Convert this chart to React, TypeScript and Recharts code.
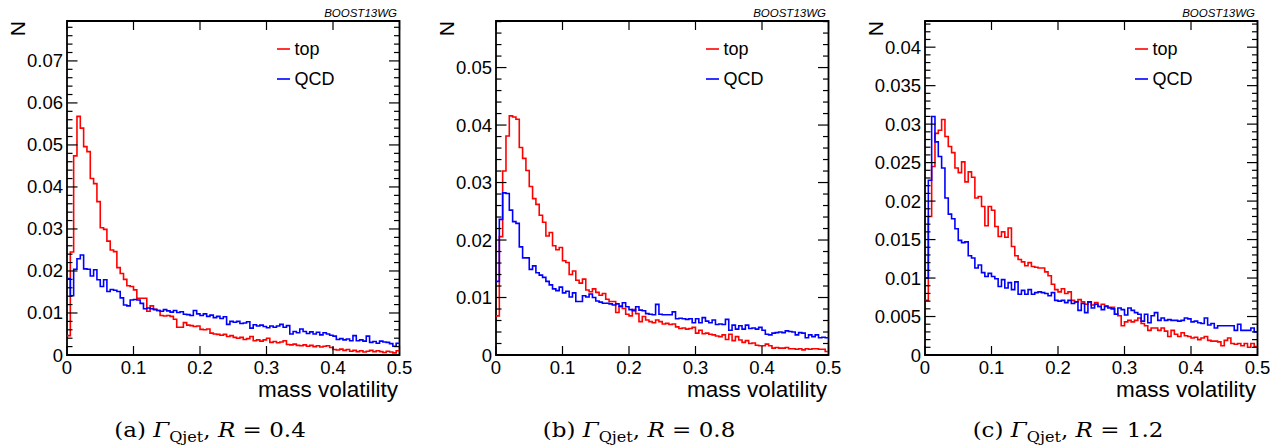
import { LineChart, Line, XAxis, YAxis, ReferenceArea } from 'recharts';

// 100 bins of width 0.005 on [0, 0.5]; bin contents in units of 1e-3
const BIN = 0.005;

const topA = [
  4.6, 24.5, 47.4, 56.8, 54.0, 49.6, 48.4, 42.0, 40.8, 36.5,
  30.3, 29.9, 27.1, 25.0, 24.6, 20.8, 19.4, 18.0, 16.5, 16.3,
  15.5, 13.5, 13.5, 13.5, 10.4, 11.7, 10.9, 10.6, 9.4, 9.3,
  9.4, 9.2, 8.5, 6.6, 6.6, 7.7, 7.1, 7.0, 6.8, 6.9,
  6.1, 6.0, 6.2, 5.2, 5.0, 4.9, 4.7, 4.9, 4.4, 4.6,
  4.2, 4.0, 4.2, 3.7, 3.9, 4.4, 3.4, 3.6, 3.3, 3.6,
  4.0, 3.0, 3.2, 2.9, 3.1, 3.4, 2.5, 2.4, 2.6, 2.3,
  2.2, 2.4, 2.1, 2.3, 2.0, 2.2, 1.9, 2.1, 2.2, 1.8,
  1.3, 1.2, 1.4, 1.1, 1.3, 0.9, 1.1, 0.8, 1.0, 0.7,
  0.9, 1.1, 0.8, 1.0, 0.8, 0.6, 0.9, 0.7, 0.5, 1.0,
];
const qcdA = [
  18.2, 14.1, 20.4, 22.9, 23.8, 20.5, 20.4, 18.8, 20.3, 17.9,
  16.3, 17.9, 15.1, 15.6, 15.4, 15.1, 13.6, 11.9, 11.7, 13.1,
  13.2, 13.1, 12.3, 11.0, 11.2, 11.0, 10.8, 10.6, 10.4, 10.8,
  10.5, 10.2, 10.6, 10.1, 10.3, 9.7, 9.6, 9.4, 10.6, 9.8,
  9.4, 9.8, 9.2, 9.5, 8.9, 9.2, 8.7, 9.1, 7.3, 8.0,
  7.8, 8.0, 7.5, 7.6, 7.9, 6.4, 7.2, 6.9, 7.1, 6.8,
  6.5, 6.9, 6.6, 6.9, 7.3, 6.6, 7.0, 5.0, 5.6, 5.3,
  6.2, 5.6, 5.1, 5.5, 5.0, 5.4, 4.8, 5.3, 5.0, 4.7,
  4.5, 3.7, 3.9, 3.6, 3.8, 3.4, 4.6, 3.4, 3.6, 3.3,
  4.5, 3.0, 3.2, 2.8, 3.3, 3.1, 3.0, 2.7, 2.1, 2.8,
];

const topB = [
  6.8, 20.6, 32.0, 38.1, 41.6, 41.4, 41.0, 36.1, 34.2, 32.1,
  29.3, 27.2, 26.2, 24.3, 23.1, 20.7, 21.3, 19.0, 18.3, 18.7,
  16.4, 16.1, 14.0, 14.6, 13.0, 12.5, 13.2, 11.3, 11.0, 11.5,
  10.9, 10.4, 10.7, 9.7, 9.3, 9.3, 7.4, 8.4, 8.1, 7.1,
  6.8, 7.9, 7.2, 5.8, 6.7, 6.1, 5.8, 5.6, 6.1, 5.8,
  5.4, 5.5, 5.3, 5.4, 4.9, 4.6, 4.7, 4.5, 4.6, 4.8,
  3.8, 4.3, 3.7, 3.8, 3.6, 3.5, 3.3, 3.2, 3.5, 2.7,
  3.6, 2.5, 3.2, 2.6, 2.2, 2.5, 2.0, 2.1, 1.7, 1.6,
  1.6, 1.9, 1.6, 1.2, 1.3, 1.2, 1.2, 1.3, 1.1, 1.1,
  1.0, 1.1, 0.9, 1.1, 1.0, 1.1, 1.1, 1.0, 1.0, 0.6,
];
const qcdB = [
  12.8, 23.6, 28.2, 28.1, 25.2, 23.2, 22.9, 18.8, 16.9, 16.9,
  14.9, 15.5, 14.3, 13.9, 13.5, 12.8, 12.2, 11.5, 11.2, 11.8,
  10.8, 11.1, 10.1, 10.8, 9.3, 9.3, 10.3, 10.1, 10.6, 10.0,
  9.4, 9.2, 9.0, 9.0, 8.9, 8.7, 8.9, 8.5, 9.1, 8.4,
  7.9, 7.7, 8.4, 7.8, 7.7, 7.2, 7.1, 7.0, 8.8, 7.1,
  7.0, 7.0, 7.0, 7.5, 6.3, 6.4, 6.3, 6.2, 6.3, 5.6,
  6.3, 5.6, 6.5, 5.9, 5.6, 6.1, 5.3, 5.4, 5.3, 6.2,
  4.3, 5.2, 4.5, 5.1, 4.5, 5.2, 4.6, 4.7, 4.5, 4.8,
  4.3, 3.6, 3.5, 3.8, 3.9, 4.0, 3.9, 4.2, 4.1, 4.0,
  3.5, 3.9, 3.8, 3.0, 3.5, 3.2, 3.5, 3.0, 3.1, 3.0,
];

const topC = [
  7.1, 18.0, 24.5, 28.8, 29.2, 30.6, 28.4, 27.1, 26.3, 24.3,
  23.7, 25.1, 22.5, 23.8, 23.1, 20.4, 20.6, 19.3, 16.8, 19.3,
  18.8, 16.7, 15.4, 16.0, 15.3, 16.5, 14.1, 12.9, 12.4, 12.1,
  11.6, 12.0, 11.5, 11.4, 11.3, 11.3, 10.8, 10.3, 9.2, 8.5,
  8.2, 8.6, 8.0, 8.2, 7.1, 6.9, 7.2, 6.9, 6.6, 6.9,
  6.5, 6.8, 6.3, 6.6, 6.4, 6.2, 6.2, 5.3, 5.1, 3.8,
  4.3, 4.5, 4.3, 4.5, 4.8, 4.1, 3.8, 3.2, 3.5, 3.5,
  3.2, 3.5, 3.1, 2.4, 3.2, 2.7, 2.4, 2.9, 2.5, 2.4,
  2.2, 2.3, 2.0, 2.2, 2.4, 1.9, 1.8, 1.8, 1.7, 1.2,
  1.9, 2.2, 1.5, 1.4, 1.5, 1.2, 1.5, 1.0, 1.5, 1.1,
];
const qcdC = [
  10.0, 22.7, 31.0, 27.7, 25.8, 24.3, 20.4, 18.3, 17.7, 16.4,
  14.9, 14.6, 14.7, 12.9, 12.6, 11.3, 11.7, 10.7, 10.2, 10.6,
  10.2, 9.9, 8.9, 9.8, 8.7, 9.4, 8.5, 9.5, 7.9, 8.4,
  7.9, 8.5, 7.9, 8.1, 8.2, 8.1, 8.0, 7.7, 8.1, 7.1,
  7.0, 7.1, 6.8, 7.1, 6.7, 6.9, 5.8, 6.7, 5.5, 6.9,
  6.1, 6.6, 6.3, 5.9, 6.3, 6.1, 6.0, 5.3, 6.1, 5.9,
  5.2, 6.1, 5.8, 5.5, 5.3, 4.4, 5.3, 4.2, 5.1, 5.5,
  4.5, 4.8, 4.5, 4.6, 4.5, 4.5, 4.4, 4.5, 4.8, 4.7,
  4.3, 4.4, 4.2, 4.1, 4.8, 3.9, 4.1, 3.5, 3.8, 3.8,
  3.8, 3.8, 3.8, 3.2, 4.0, 3.2, 3.2, 3.2, 3.5, 3.0,
];

const xTicks = [0, 0.1, 0.2, 0.3, 0.4, 0.5];
const seriesNames = ['top', 'QCD'];
const captionLetters = ['a', 'b', 'c'];
const radii = ['0.4', '0.8', '1.2'];

const PLOT_W = 332.5;
const AXIS_W = 67;
const TOP = 21;
const CHART_H = 380;
const SANS = 'Liberation Sans, Arial, Helvetica, sans-serif';
const SERIF = 'DejaVu Serif, Liberation Serif, serif';

const buildRows = (top: number[], qcd: number[]) => {
  const rows = top.map((t, i) => ({ x: +(i * BIN).toFixed(3), top: t / 1000, qcd: qcd[i] / 1000 }));
  rows.push({ x: 0.5, top: top[top.length - 1] / 1000, qcd: qcd[qcd.length - 1] / 1000 });
  return rows;
};

const makeTicks = (max: number, step: number) => {
  const out: number[] = [];
  for (let i = 0; i * step <= max + 1e-9; i++) out.push(+(i * step).toFixed(4));
  return out;
};

const fmt = (v: number) => (v === 0 ? '0' : String(+v.toFixed(4)));

const YTick = (props: any) => {
  const { x, y, payload, major } = props;
  const v = payload.value;
  const isMajor = Math.abs(v / major - Math.round(v / major)) < 1e-6;
  const len = isMajor ? 10.5 : 5.5;
  return (
    <g>
      <line x1={x} x2={x + len} y1={y} y2={y} stroke="#000" strokeWidth={1.2} />
      <line x1={x + PLOT_W} x2={x + PLOT_W - len} y1={y} y2={y} stroke="#000" strokeWidth={1.2} />
      {isMajor && (
        <text x={x - 4} y={y} textAnchor="end" dominantBaseline="central" fontFamily={SANS} fontSize={18.5} fill="#000">
          {fmt(v)}
        </text>
      )}
    </g>
  );
};

const XTick = (props: any) => {
  const { x, y, payload, plotH } = props;
  return (
    <g>
      <line x1={x} x2={x} y1={y} y2={y - 9} stroke="#000" strokeWidth={1.2} />
      <line x1={x} x2={x} y1={y - plotH} y2={y - plotH + 9} stroke="#000" strokeWidth={1.2} />
      <text x={x} y={y + 12} textAnchor="middle" dominantBaseline="central" fontFamily={SANS} fontSize={18.5} fill="#000">
        {fmt(payload.value)}
      </text>
    </g>
  );
};

type PanelProps = {
  left: number;
  top: number[];
  qcd: number[];
  ymax: number;
  minor: number;
  major: number;
};

const Panel = ({ left, top, qcd, ymax, minor, major }: PanelProps) => {
  const data = buildRows(top, qcd);
  const plotH = CHART_H - 25 - TOP;
  return (
    <div style={{ position: 'absolute', left: left - AXIS_W, top: 0 }}>
      <LineChart width={AXIS_W + PLOT_W + 12} height={CHART_H} data={data} margin={{ top: TOP, right: 12, bottom: 0, left: 0 }}>
        <XAxis
          dataKey="x"
          type="number"
          domain={[0, 0.5]}
          ticks={xTicks}
          interval={0}
          height={25}
          axisLine={false}
          tickLine={false}
          tickSize={0}
          tickMargin={0}
          tick={(p: any) => <XTick {...p} plotH={plotH} />}
        />
        <YAxis
          type="number"
          domain={[0, ymax]}
          allowDataOverflow
          ticks={makeTicks(ymax, minor)}
          interval={0}
          width={AXIS_W}
          axisLine={false}
          tickLine={false}
          tickSize={0}
          tickMargin={0}
          tick={(p: any) => <YTick {...p} major={major} />}
        />
        <ReferenceArea x1={0} x2={0.5} y1={0} y2={ymax} fill="none" stroke="#000" strokeWidth={1.8} />
        <Line type="stepAfter" dataKey="top" stroke="#ff0000" strokeWidth={1.6} dot={false} isAnimationActive={false} />
        <Line type="stepAfter" dataKey="qcd" stroke="#0000ff" strokeWidth={1.6} dot={false} isAnimationActive={false} />
      </LineChart>
    </div>
  );
};

const panelLefts = [67, 496, 925];

export default function App() {
  return (
    <div style={{ position: 'absolute', left: 0, top: 0, width: 1287, height: 448, background: '#fff', overflow: 'hidden' }}>
      <Panel left={panelLefts[0]} top={topA} qcd={qcdA} ymax={0.0795} minor={0.002} major={0.01} />
      <Panel left={panelLefts[1]} top={topB} qcd={qcdB} ymax={0.0581} minor={0.002} major={0.01} />
      <Panel left={panelLefts[2]} top={topC} qcd={qcdC} ymax={0.0434} minor={0.001} major={0.005} />
      <svg width={1287} height={448} style={{ position: 'absolute', left: 0, top: 0, pointerEvents: 'none' }}>
        {panelLefts.map((L, i) => {
          const R = L + PLOT_W;
          return (
            <g key={i}>
              <text transform={`translate(${L - 42},21) rotate(-90)`} textAnchor="end" fontFamily={SANS} fontSize={21} fill="#000">
                N
              </text>
              <text x={R - 2.5} y={16.5} textAnchor="end" fontFamily={SANS} fontStyle="italic" fontSize={11.5} fill="#000">
                BOOST13WG
              </text>
              <line x1={R - 122.5} x2={R - 109.5} y1={49} y2={49} stroke="#ff0000" strokeWidth={1.6} />
              <text x={R - 105} y={49} dominantBaseline="central" fontFamily={SANS} fontSize={18} fill="#000">
                {seriesNames[0]}
              </text>
              <line x1={R - 122.5} x2={R - 109.5} y1={79} y2={79} stroke="#0000ff" strokeWidth={1.6} />
              <text x={R - 105} y={79} dominantBaseline="central" fontFamily={SANS} fontSize={18} fill="#000">
                {seriesNames[1]}
              </text>
              <text x={R - 1.5} y={397} textAnchor="end" fontFamily={SANS} fontSize={22.5} fill="#000">
                mass volatility
              </text>
              <text transform={`translate(${L + 143},437) scale(1.15,1)`} textAnchor="middle" fontFamily={SERIF} fontSize={20} fill="#000">
                <tspan>({captionLetters[i]}) </tspan>
                <tspan fontStyle="italic">Γ</tspan>
                <tspan fontSize={14} dy={5}>Qjet</tspan>
                <tspan dy={-5}>, </tspan>
                <tspan fontStyle="italic">R</tspan>
                <tspan> = {radii[i]}</tspan>
              </text>
            </g>
          );
        })}
      </svg>
    </div>
  );
}
